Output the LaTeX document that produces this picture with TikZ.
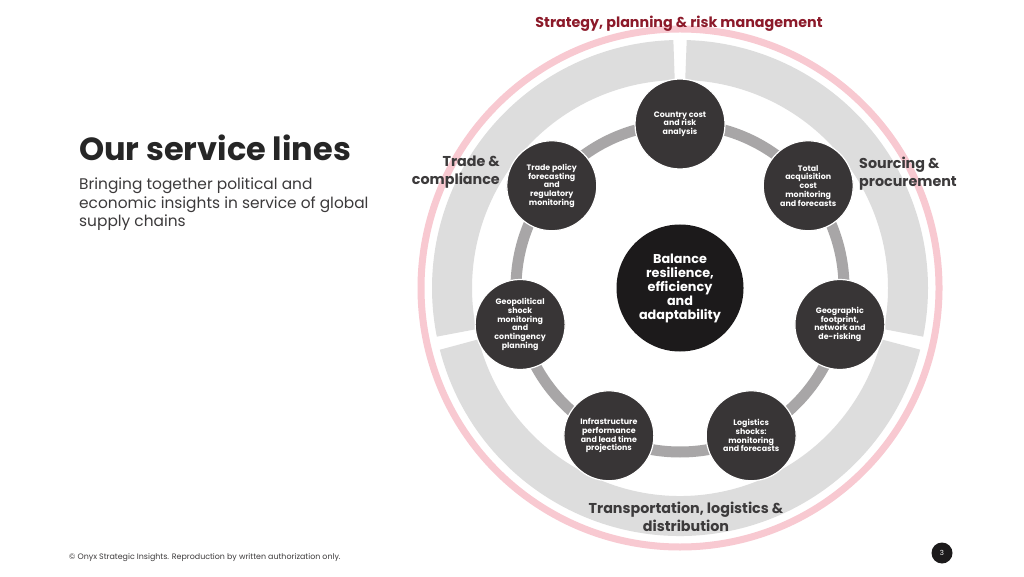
\documentclass[tikz,border=0pt]{standalone}
\usepackage{fontspec}
\setmainfont{Poppins}
\usetikzlibrary{positioning}
\definecolor{svcPink}{HTML}{F8C9D1}
\definecolor{svcGrey}{HTML}{DDDDDD}
\definecolor{svcMid}{HTML}{A8A6A7}
\definecolor{svcDark}{HTML}{383536}
\definecolor{svcBlack}{HTML}{1C1A1B}
\definecolor{svcRed}{HTML}{8C1A2A}
\definecolor{svcText}{HTML}{3C3A3B}
\definecolor{svcTitle}{HTML}{262626}
\tikzset{
  svcsat/.style={circle,draw=white,line width=1.2pt,fill=svcDark,
                 minimum size=90pt,inner sep=0pt,text=white,align=center,
                 font=\fontsize{7.9}{8.7}\selectfont\bfseries},
  svchub/.style={circle,fill=svcBlack,minimum size=127pt,inner sep=0pt,
                 text=white,align=center,
                 font=\fontsize{12.8}{14}\selectfont\bfseries},
  svcband/.style={svcGrey,line width=40pt},
  svclink/.style={svcMid,line width=11pt},
  svcrim/.style={svcPink,line width=7pt},
  svcarea/.style={font=\fontsize{14.3}{18}\selectfont\bfseries,text=svcText,
                  inner sep=0pt}
}

\begin{document}
\begin{tikzpicture}[x=1pt,y=1pt]
  \fill[white] (0,0) rectangle (1024,576);
  \useasboundingbox (0,0) rectangle (1024,576);

  % left column
  \node[anchor=base west,inner sep=0pt,text=svcTitle,
        font=\fontsize{32}{36}\selectfont\bfseries] (title) at (79,415)
    {Our service lines};
  \node[anchor=north west,inner sep=0pt,align=left,text=svcText,
        font=\fontsize{15.4}{18.5}\selectfont] (subtitle) at (79,398)
    {Bringing together political and\\economic insights in service of global\\supply chains};

  \coordinate (mid) at (680,288);
  \begin{scope}[shift={(mid)}]
    \draw[svcrim] (0,0) circle[radius=259];
    \draw[svcband] (-11.36:228) arc[start angle=-11.36,end angle=88.5,radius=228];
    \draw[svcband] (91.5:228) arc[start angle=91.5,end angle=191.36,radius=228];
    \draw[svcband] (194.36:228) arc[start angle=194.36,end angle=345.64,radius=228];
    \draw[svclink] (0,0) circle[radius=164];

    \node[svcsat] (cost) at (90:164) {Country cost\\and risk\\analysis};
    \node[svcsat] (acq) at (38.57:164)
      {Total\\acquisition\\cost\\monitoring\\and forecasts};
    \node[svcsat] (geo) at (-12.86:164)
      {Geographic\\footprint,\\network and\\de-risking};
    \node[svcsat] (logi) at (-64.29:164)
      {Logistics\\shocks:\\monitoring\\and forecasts};
    \node[svcsat] (infra) at (-115.71:164)
      {Infrastructure\\performance\\and lead time\\projections};
    \node[svcsat] (shock) at (-167.14:164)
      {Geopolitical\\shock\\monitoring\\and\\contingency\\planning};
    \node[svcsat] (policy) at (141.43:164)
      {Trade policy\\forecasting\\and\\regulatory\\monitoring};
  \end{scope}
  \node[svchub] (hub) at (mid)
    {Balance\\resilience,\\efficiency\\and\\adaptability};

  % ring labels
  \node[svcarea,text=svcRed] (strategy) at (679,552)
    {Strategy, planning \& risk management};
  \node[svcarea,anchor=east,align=right] (trade) at (500,404)
    {Trade \&\\compliance};
  \node[svcarea,anchor=west,align=left] (sourcing) at (859,402)
    {Sourcing \&\\procurement};
  \node[svcarea,align=center] (transport) at (686,59)
    {Transportation, logistics \&\\distribution};

  % footer
  \node[anchor=base west,inner sep=0pt,text=svcText,
        font=\fontsize{7.9}{9}\selectfont] (footer) at (69,17)
    {© Onyx Strategic Insights. Reproduction by written authorization only.};
  \node[circle,fill=svcBlack,minimum size=21pt,inner sep=0pt,text=white,
        font=\fontsize{7}{8}\selectfont] (page) at (942,23) {3};
\end{tikzpicture}
\end{document}
